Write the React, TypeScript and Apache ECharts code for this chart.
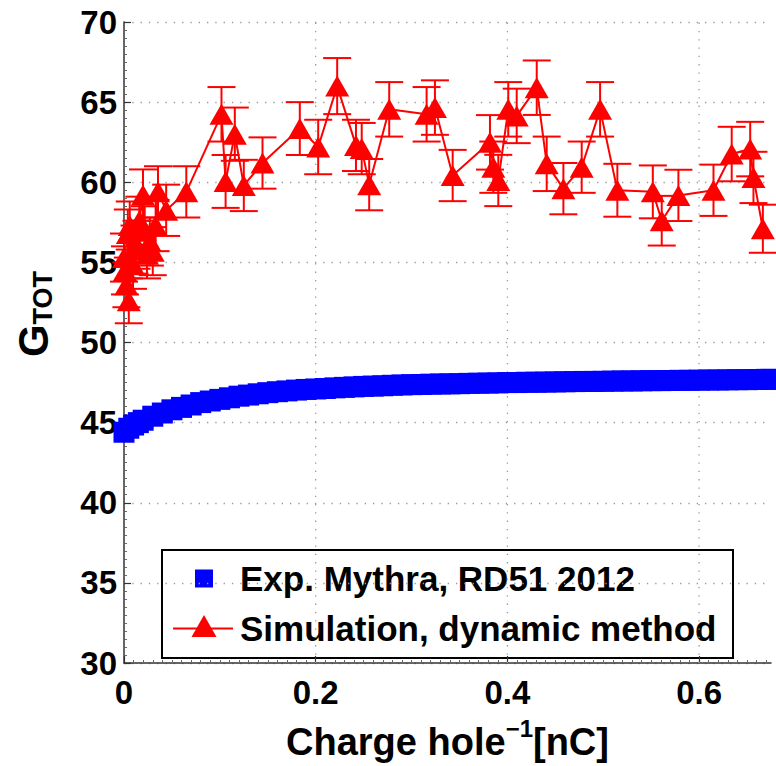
import React, { useEffect, useRef } from 'react';
import * as echarts from 'echarts';

// ---------- data ----------
const xTicks = [0, 0.2, 0.4, 0.6];
const yMin = 30;
const yMax = 70;
const yStep = 5;
const xMin = 0;
const xMax = 0.675;

const seriesNames = ['Exp. Mythra, RD51 2012', 'Simulation, dynamic method'];
const xAxisTitle = { main: 'Charge hole', sup: '−1', unit: '[nC]' };
const yAxisTitle = { main: 'G', sub: 'TOT' };

// Experimental data (blue squares)
const expX = [
  0.000, 0.005, 0.010, 0.015, 0.020, 0.030, 0.040, 0.050, 0.060, 0.070,
  0.080, 0.090, 0.100, 0.110, 0.120, 0.130, 0.140, 0.150, 0.160, 0.170,
  0.180, 0.190, 0.200, 0.210, 0.220, 0.230, 0.240, 0.250, 0.260, 0.270,
  0.280, 0.290, 0.300, 0.310, 0.320, 0.330, 0.340, 0.350, 0.360, 0.370,
  0.380, 0.390, 0.400, 0.410, 0.420, 0.430, 0.440, 0.450, 0.460, 0.470,
  0.480, 0.490, 0.500, 0.510, 0.520, 0.530, 0.540, 0.550, 0.560, 0.570,
  0.580, 0.590, 0.600, 0.610, 0.620, 0.630, 0.640, 0.650, 0.660, 0.670,
  0.675,
];
const expY = [
  44.4, 44.65, 44.85, 45.0, 45.15, 45.4, 45.6, 45.8, 45.95, 46.1,
  46.25, 46.35, 46.45, 46.55, 46.65, 46.72, 46.8, 46.87, 46.93, 46.98,
  47.03, 47.07, 47.1, 47.13, 47.17, 47.2, 47.23, 47.26, 47.28, 47.3,
  47.33, 47.35, 47.37, 47.38, 47.4, 47.41, 47.42, 47.43, 47.45, 47.46,
  47.47, 47.48, 47.5, 47.5, 47.52, 47.52, 47.53, 47.54, 47.55, 47.56,
  47.57, 47.57, 47.58, 47.59, 47.6, 47.6, 47.61, 47.62, 47.62, 47.63,
  47.64, 47.64, 47.65, 47.66, 47.66, 47.67, 47.68, 47.68, 47.69, 47.7,
  47.7,
];

// Simulation data (red triangles with error bars)
const simX = [
  0.000, 0.001, 0.0025, 0.004, 0.005, 0.006, 0.0094, 0.011, 0.013, 0.016,
  0.0198, 0.0216, 0.024, 0.027, 0.030, 0.033, 0.0355, 0.044, 0.065,
  0.1017, 0.106, 0.1156, 0.125, 0.1445, 0.1834, 0.2026, 0.2224, 0.242, 0.248,
  0.2558, 0.2767, 0.3157, 0.3244, 0.3429, 0.3818, 0.3853, 0.3905, 0.4009, 0.4097,
  0.4306, 0.441, 0.4584, 0.4775, 0.4967, 0.5147, 0.5517, 0.561, 0.5784, 0.615,
  0.634, 0.6533, 0.6567, 0.6665,
];
const simY = [
  55.3, 54.5, 53.6, 56.8, 52.6, 57.3, 54.85, 55.8, 56.1, 57.6,
  59.2, 57.0, 55.5, 56.3, 55.7, 57.3, 59.4, 58.25, 59.4,
  64.24, 60.05, 63.0, 59.8, 61.2, 63.35, 62.2, 66.0, 62.3, 62.1,
  59.85, 64.55, 64.24, 64.66, 60.42, 62.49, 60.94, 60.11, 64.55, 64.14,
  65.9, 61.15, 59.6, 60.94, 64.55, 59.5, 59.4, 57.6, 59.18, 59.5,
  61.76, 62.07, 60.3, 57.1,
];
const simErr = [
  1.5, 1.5, 1.4, 1.5, 1.4, 1.5, 1.5, 1.5, 1.5, 1.5,
  1.6, 1.5, 1.5, 1.5, 1.5, 1.6, 1.6, 1.6, 1.6,
  1.7, 1.65, 1.66, 1.6, 1.6, 1.65, 1.7, 1.75, 1.6, 1.6,
  1.6, 1.7, 1.7, 1.7, 1.6, 1.7, 1.6, 1.6, 1.7, 1.7,
  1.7, 1.7, 1.6, 1.6, 1.7, 1.65, 1.65, 1.55, 1.6, 1.6,
  1.7, 1.7, 1.6, 1.5,
];

const FONT = '"Liberation Sans", Arial, Helvetica, sans-serif';
const BLUE = '#0000ff';
const RED = '#ff0000';

export default function App() {
  const ref = useRef<HTMLDivElement>(null);

  useEffect(() => {
    if (!ref.current) return;
    const chart = echarts.init(ref.current, undefined, { renderer: 'svg' });

    const option: any = {
      animation: false,
      backgroundColor: '#ffffff',
      grid: { left: 124, right: 5, top: 22, bottom: 98, containLabel: false },
      xAxis: {
        type: 'value',
        min: xMin,
        max: xMax,
        interval: 0.2,
        name: `{a|${xAxisTitle.main}}{s|${xAxisTitle.sup}}{a|${xAxisTitle.unit}}`,
        nameLocation: 'middle',
        nameGap: 53,
        nameTextStyle: {
          rich: {
            a: { fontFamily: FONT, fontWeight: 'bold', fontSize: 38, lineHeight: 52, color: '#000' },
            s: { fontFamily: FONT, fontWeight: 'bold', fontSize: 24, lineHeight: 24, verticalAlign: 'top', color: '#000' },
          },
        },
        axisLine: { show: true, onZero: false, lineStyle: { color: '#333', width: 1.5 } },
        axisTick: { show: true, inside: true, length: 7, customValues: xTicks, lineStyle: { color: '#333', width: 1.2 } },
        minorTick: { show: true, splitNumber: 20, length: 3, lineStyle: { color: '#666', width: 1 } },
        axisLabel: {
          customValues: xTicks,
          margin: 13,
          fontFamily: FONT,
          fontWeight: 'bold',
          fontSize: 33,
          color: '#000',
          formatter: (v: number) => String(Math.round(v * 10) / 10),
        },
        splitLine: { show: false },
      },
      yAxis: {
        type: 'value',
        min: yMin,
        max: yMax,
        interval: yStep,
        axisLine: { show: true, onZero: false, lineStyle: { color: '#333', width: 1.5 } },
        axisTick: { show: true, inside: true, length: 7, lineStyle: { color: '#333', width: 1.2 } },
        minorTick: { show: true, splitNumber: 10, length: 3, lineStyle: { color: '#666', width: 1 } },
        axisLabel: {
          margin: 7,
          fontFamily: FONT,
          fontWeight: 'bold',
          fontSize: 33,
          color: '#000',
        },
        splitLine: { show: true, lineStyle: { color: '#999', width: 1.3, type: [1.3, 7] } },
      },
      series: [
        {
          name: 'vgrid',
          type: 'custom',
          silent: true,
          z: 1,
          data: xTicks.filter((t) => t > xMin).map((t) => [t]),
          encode: { x: 0 },
          renderItem: (_params: any, api: any) => {
            const x = api.value(0);
            const p1 = api.coord([x, yMin]);
            const p2 = api.coord([x, yMax]);
            return {
              type: 'line',
              shape: { x1: p1[0], y1: p1[1], x2: p2[0], y2: p2[1] },
              style: { stroke: '#999', lineWidth: 1.3, lineDash: [1.3, 7] },
            };
          },
        },
        {
          name: seriesNames[0],
          type: 'scatter',
          z: 3,
          symbol: 'rect',
          symbolSize: 21,
          itemStyle: { color: BLUE, opacity: 1 },
          data: expX.map((x, i) => [x, expY[i]]),
        },
        {
          name: 'errorbars',
          type: 'custom',
          silent: true,
          z: 4,
          data: simX.map((x, i) => [x, simY[i], simErr[i]]),
          encode: { x: 0, y: 1 },
          renderItem: (_params: any, api: any) => {
            const x = api.value(0);
            const y = api.value(1);
            const e = api.value(2);
            const top = api.coord([x, y + e]);
            const bot = api.coord([x, y - e]);
            const hw = 14;
            const style = { stroke: RED, lineWidth: 2 };
            return {
              type: 'group',
              children: [
                { type: 'line', shape: { x1: top[0], y1: top[1], x2: bot[0], y2: bot[1] }, style },
                { type: 'line', shape: { x1: top[0] - hw, y1: top[1], x2: top[0] + hw, y2: top[1] }, style },
                { type: 'line', shape: { x1: bot[0] - hw, y1: bot[1], x2: bot[0] + hw, y2: bot[1] }, style },
              ],
            };
          },
        },
        {
          name: seriesNames[1],
          type: 'line',
          z: 5,
          symbol: 'triangle',
          symbolSize: [24, 21],
          showAllSymbol: true,
          lineStyle: { color: RED, width: 2 },
          itemStyle: { color: RED },
          data: simX.map((x, i) => [x, simY[i]]),
        },
      ],
      graphic: [
        {
          type: 'text',
          x: 33,
          y: 314,
          rotation: Math.PI / 2,
          z: 10,
          style: {
            text: `{g|${yAxisTitle.main}}{t|${yAxisTitle.sub}}`,
            align: 'center',
            verticalAlign: 'middle',
            rich: {
              g: { fontFamily: FONT, fontWeight: 'bold', fontSize: 42, lineHeight: 46, fill: '#000' },
              t: { fontFamily: FONT, fontWeight: 'bold', fontSize: 27, lineHeight: 27, verticalAlign: 'bottom', fill: '#000' },
            },
          },
        },
        {
          type: 'group',
          z: 20,
          children: [
            {
              type: 'rect',
              shape: { x: 162, y: 550, width: 571, height: 108 },
              style: { fill: '#fff', stroke: '#000', lineWidth: 2 },
            },
            {
              type: 'rect',
              shape: { x: 195, y: 569.5, width: 18, height: 18 },
              style: { fill: BLUE },
            },
            {
              type: 'text',
              x: 240,
              y: 578.5,
              style: {
                text: seriesNames[0],
                fontFamily: FONT,
                fontWeight: 'bold',
                fontSize: 35,
                fill: '#000',
                verticalAlign: 'middle',
                align: 'left',
              },
            },
            {
              type: 'line',
              shape: { x1: 173, y1: 628.5, x2: 233, y2: 628.5 },
              style: { stroke: RED, lineWidth: 2 },
            },
            {
              type: 'polygon',
              shape: { points: [[204, 615], [216.5, 637], [191.5, 637]] },
              style: { fill: RED },
            },
            {
              type: 'text',
              x: 240,
              y: 628.5,
              style: {
                text: seriesNames[1],
                fontFamily: FONT,
                fontWeight: 'bold',
                fontSize: 35,
                fill: '#000',
                verticalAlign: 'middle',
                align: 'left',
              },
            },
          ],
        },
      ],
    };

    chart.setOption(option);
    return () => chart.dispose();
  }, []);

  return (
    <div
      ref={ref}
      style={{ position: 'fixed', left: 0, top: 0, width: 776, height: 766, background: '#fff' }}
    />
  );
}
